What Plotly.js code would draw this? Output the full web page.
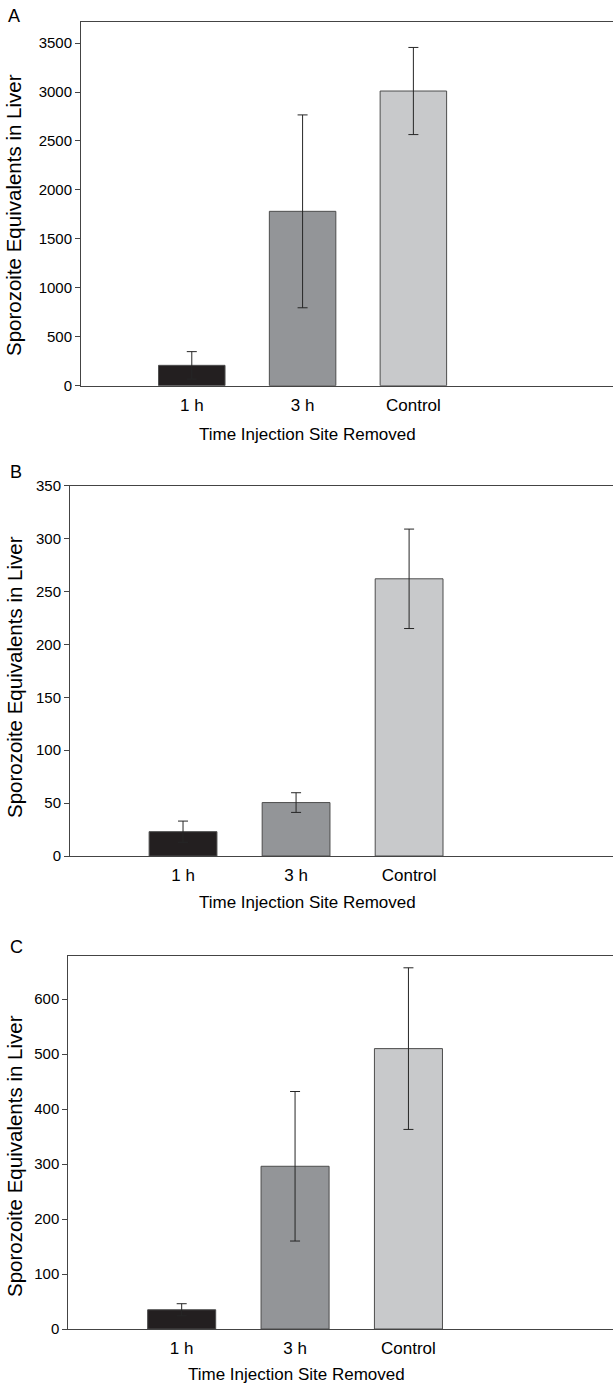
<!DOCTYPE html>
<html>
<head>
<meta charset="utf-8">
<script src="https://cdn.plot.ly/plotly-3.0.1.min.js"></script>
<style>html,body{margin:0;padding:0;background:#fff;overflow:hidden;}#chart{width:625px;height:1386px;}</style>
</head>
<body>
<div id="chart"></div>
<script>
// Data
var categories = ["1 h", "3 h", "Control"];
var barColors = ["#231f20", "#939598", "#c8c9cb"];
var valuesA = [208, 1781, 3010];
var errorsA = [140, 985, 445];
var valuesB = [23, 50.5, 262];
var errorsB = [10, 9.3, 47];
var valuesC = [35, 296, 510];
var errorsC = [11, 136, 147];
var panelLabels = ["A", "B", "C"];
var yTitle = "Sporozoite Equivalents in Liver";
var xTitle = "Time Injection Site Removed";

// plot area runs past the 613px window on the right, as the cropped original does
var H = 1386, W = 625;
function fy(px){ return 1 - px / H; }
function fx(px){ return px / W; }

function barTrace(vals, errs, n){
  var s = n === 1 ? "" : String(n);
  return {
    type: "bar",
    x: categories,
    y: vals,
    xaxis: "x" + s,
    yaxis: "y" + s,
    width: 0.6,
    marker: {color: barColors, line: {color: "#4d4d4d", width: 1}},
    error_y: {type: "data", array: errs, visible: true, color: "#262626", thickness: 1, width: 5},
    hoverinfo: "skip",
    showlegend: false
  };
}

var fam = "Liberation Sans, Arial, sans-serif";
var tickFont = {family: fam, size: 15, color: "#000"};
var xTickFont = {family: fam, size: 17, color: "#000"};

function xAxis(domL, anchor){
  return {
    domain: [domL, 1], anchor: anchor, type: "category",
    range: [-1, 3.91], showline: true, mirror: true, linecolor: "#444", linewidth: 1,
    ticks: "", showgrid: false, zeroline: false, tickfont: xTickFont,
    ticklabelstandoff: 4, fixedrange: true
  };
}
function yAxis(dom, range, dtick, anchor){
  return {
    domain: dom, anchor: anchor, range: range, dtick: dtick, tick0: 0,
    showline: true, mirror: false, linecolor: "#444", linewidth: 1, ticks: "outside", ticklen: 5,
    tickcolor: "#444", showgrid: false, zeroline: false, tickfont: tickFont, fixedrange: true
  };
}

var domA = [fy(385.7), fy(22)], domB = [fy(856), fy(485.7)], domC = [fy(1329), fy(955.7)];
var leftA = fx(81), leftB = fx(70), leftC = fx(68.3);

var ann = [];
var panels = [
  {label: panelLabels[0], ly: 16, lx: 14, xt: 435},
  {label: panelLabels[1], ly: 471.7, lx: 16, xt: 902},
  {label: panelLabels[2], ly: 946.7, lx: 16, xt: 1374}
];
var titleFont = {family: fam, size: 17, color: "#000"};
var yTitleFont = {family: fam, size: 20.5, color: "#000"};
var yCenters = [215, 677, 1156];
var xCenters = [fx(307), fx(307), fx(296)];
panels.forEach(function(p, i){
  ann.push({text: p.label, xref: "paper", yref: "paper", x: fx(p.lx), y: fy(p.ly), xanchor: "center", yanchor: "middle", showarrow: false, font: {family: fam, size: 18, color: "#000"}});
  ann.push({text: yTitle, xref: "paper", yref: "paper", x: fx(14), y: fy(yCenters[i]), xanchor: "center", yanchor: "middle", textangle: -90, showarrow: false, font: yTitleFont});
  ann.push({text: xTitle, xref: "paper", yref: "paper", x: xCenters[i], y: fy(p.xt), xanchor: "center", yanchor: "middle", showarrow: false, font: titleFont});
});

var layout = {
  width: W, height: H,
  margin: {l: 0, r: 0, t: 0, b: 0},
  paper_bgcolor: "#fff", plot_bgcolor: "#fff",
  bargap: 0.4,
  xaxis: xAxis(leftA, "y"),
  yaxis: yAxis(domA, [0, 3715], 500, "x"),
  xaxis2: xAxis(leftB, "y2"),
  yaxis2: yAxis(domB, [0, 350], 50, "x2"),
  xaxis3: xAxis(leftC, "y3"),
  yaxis3: yAxis(domC, [0, 679], 100, "x3"),
  annotations: ann
};

Plotly.newPlot("chart", [barTrace(valuesA, errorsA, 1), barTrace(valuesB, errorsB, 2), barTrace(valuesC, errorsC, 3)], layout, {staticPlot: true, displayModeBar: false});
</script>
</body>
</html>
